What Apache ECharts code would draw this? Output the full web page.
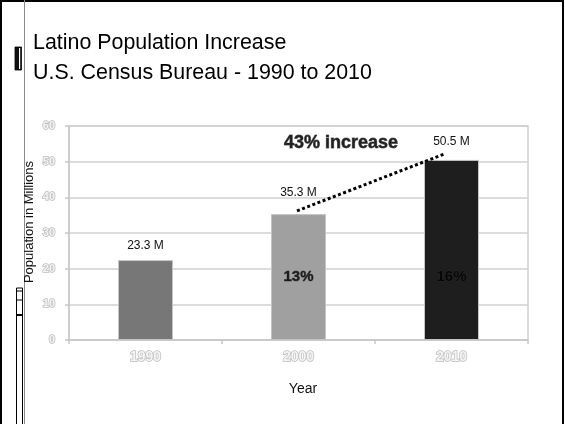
<!DOCTYPE html>
<html>
<head>
<meta charset="utf-8">
<script src="https://cdn.jsdelivr.net/npm/echarts@6/dist/echarts.min.js"></script>
<style>
html,body{margin:0;padding:0;background:#fff;}
#chart{width:565px;height:424px;}
</style>
</head>
<body>
<div id="chart"></div>
<script>
// ---- data ----
const categories = ['1990', '2000', '2010'];
const populationValues = [22.4, 35.3, 50.5];
const valueLabels = ['23.3 M', '35.3 M', '50.5 M'];
const shareLabels = ['', '13%', '16%'];
const barColors = ['#777777', '#a0a0a0', '#1e1e1e'];
const yTicks = [0, 10, 20, 30, 40, 50, 60];
const trendLineX = [1.49, 2.45];   // position along category axis (0..3)
const trendLineY = [36.2, 52.1];   // millions
const titleLines = ['Latino Population Increase', 'U.S. Census Bureau - 1990 to 2010'];
const annotationText = '43% increase';
const yAxisTitle = 'Population in Millions';

const labelDistances = [8, 15, 12];
const shareLabelLevel = 17.6;

const chart = echarts.init(document.getElementById('chart'), null, {renderer: 'canvas'});

const outlineText = {
  color: '#f4f4f4',
  textBorderColor: '#bdbdbd',
  textBorderWidth: 1.5,
  fontFamily: 'Liberation Sans, Arial, sans-serif',
  fontWeight: 'bold'
};

const option = {
  backgroundColor: '#ffffff',
  animation: false,
  grid: {
    left: 69, right: 37, top: 126, bottom: 84,
    show: true, borderColor: '#d0d0d0', borderWidth: 1.5, containLabel: false
  },
  xAxis: [{
    type: 'category',
    data: categories,
    axisLine: {lineStyle: {color: '#c8c8c8', width: 1.5}},
    axisTick: {show: true, length: 4, lineStyle: {color: '#c8c8c8', width: 1.5}},
    axisLabel: Object.assign({fontSize: 14, margin: 10}, outlineText),
    name: 'Year',
    nameLocation: 'middle',
    nameGap: 42,
    nameTextStyle: {color: '#111', fontSize: 14, fontFamily: 'Liberation Sans, Arial, sans-serif', padding: [0, 0, 0, 9]}
  }, {
    type: 'value', min: 0, max: 3, show: false
  }],
  yAxis: {
    type: 'value',
    min: yTicks[0], max: yTicks[yTicks.length - 1], interval: 10,
    axisLine: {show: true, lineStyle: {color: '#c8c8c8', width: 1.5}},
    axisTick: {show: true, length: 4, lineStyle: {color: '#c8c8c8', width: 1.5}},
    splitLine: {lineStyle: {color: '#d0d0d0', width: 1.5}},
    axisLabel: Object.assign({fontSize: 11, margin: 14}, outlineText)
  },
  series: [{
    type: 'bar',
    barWidth: 55,
    data: populationValues.map((v, i) => ({
      value: v,
      itemStyle: {color: barColors[i], borderColor: '#c4c4c4', borderWidth: 1},
      label: {
        show: true, position: 'top', distance: labelDistances[i],
        formatter: valueLabels[i], color: '#111', fontSize: 12,
        fontFamily: 'Liberation Sans, Arial, sans-serif'
      }
    }))
  }, {
    type: 'scatter',
    symbolSize: 0,
    data: categories.map((c, i) => ({
      value: [c, shareLabelLevel],
      label: {
        show: shareLabels[i] !== '', position: 'inside', formatter: shareLabels[i],
        color: '#000', fontSize: 15, fontWeight: 'bold',
        fontFamily: 'Liberation Sans, Arial, sans-serif',
        textBorderColor: i === 2 ? '#2a2a2a' : '#555', textBorderWidth: 0.8
      }
    })),
    z: 5
  }, {
    type: 'line',
    xAxisIndex: 1,
    symbol: 'none',
    data: trendLineX.map((x, i) => [x, trendLineY[i]]),
    lineStyle: {color: '#000', width: 3, type: [3, 2.5]},
    z: 6
  }],
  graphic: [
    {type: 'rect', shape: {x: 1, y: 1, width: 562, height: 430}, style: {fill: 'none', stroke: '#000', lineWidth: 2}, silent: true},
    {type: 'line', shape: {x1: 24.5, y1: 0, x2: 24.5, y2: 424}, style: {stroke: '#8a8a8a', lineWidth: 1}},
    {type: 'rect', shape: {x: 15, y: 47, width: 6.5, height: 23}, style: {fill: '#111', stroke: '#000', lineWidth: 0.8}},
    {type: 'rect', shape: {x: 19, y: 48, width: 1.2, height: 21}, style: {fill: '#fff'}},
    {type: 'rect', shape: {x: 16.5, y: 288, width: 6, height: 140}, style: {fill: '#fff', stroke: '#000', lineWidth: 1}},
    {type: 'line', shape: {x1: 16.5, y1: 291, x2: 22.5, y2: 291}, style: {stroke: '#000', lineWidth: 1}},
    {type: 'line', shape: {x1: 16.5, y1: 300, x2: 22.5, y2: 300}, style: {stroke: '#000', lineWidth: 1}},
    {type: 'line', shape: {x1: 16.5, y1: 315, x2: 22.5, y2: 315}, style: {stroke: '#000', lineWidth: 2}},
    {type: 'text', left: 33, top: 33, style: {text: titleLines[0], font: '21.4px "Liberation Sans", Arial, sans-serif', fill: '#000'}},
    {type: 'text', left: 33, top: 63, style: {text: titleLines[1], font: '21.4px "Liberation Sans", Arial, sans-serif', fill: '#000'}},
    {type: 'text', x: 29, y: 222, rotation: Math.PI / 2, style: {
      text: yAxisTitle, font: '13px "Liberation Sans", Arial, sans-serif', fill: '#111',
      align: 'center', verticalAlign: 'middle'
    }, z: 10},
    {type: 'text', x: 341, y: 143, style: {
      text: annotationText, font: 'bold 18px "Liberation Sans", Arial, sans-serif',
      fill: '#222', stroke: '#777', lineWidth: 0.8, align: 'center', verticalAlign: 'middle',
      shadowColor: 'rgba(0,0,0,0.35)', shadowOffsetX: 1, shadowOffsetY: 1, shadowBlur: 1
    }, z: 10}
  ]
};

chart.setOption(option);
</script>
</body>
</html>
